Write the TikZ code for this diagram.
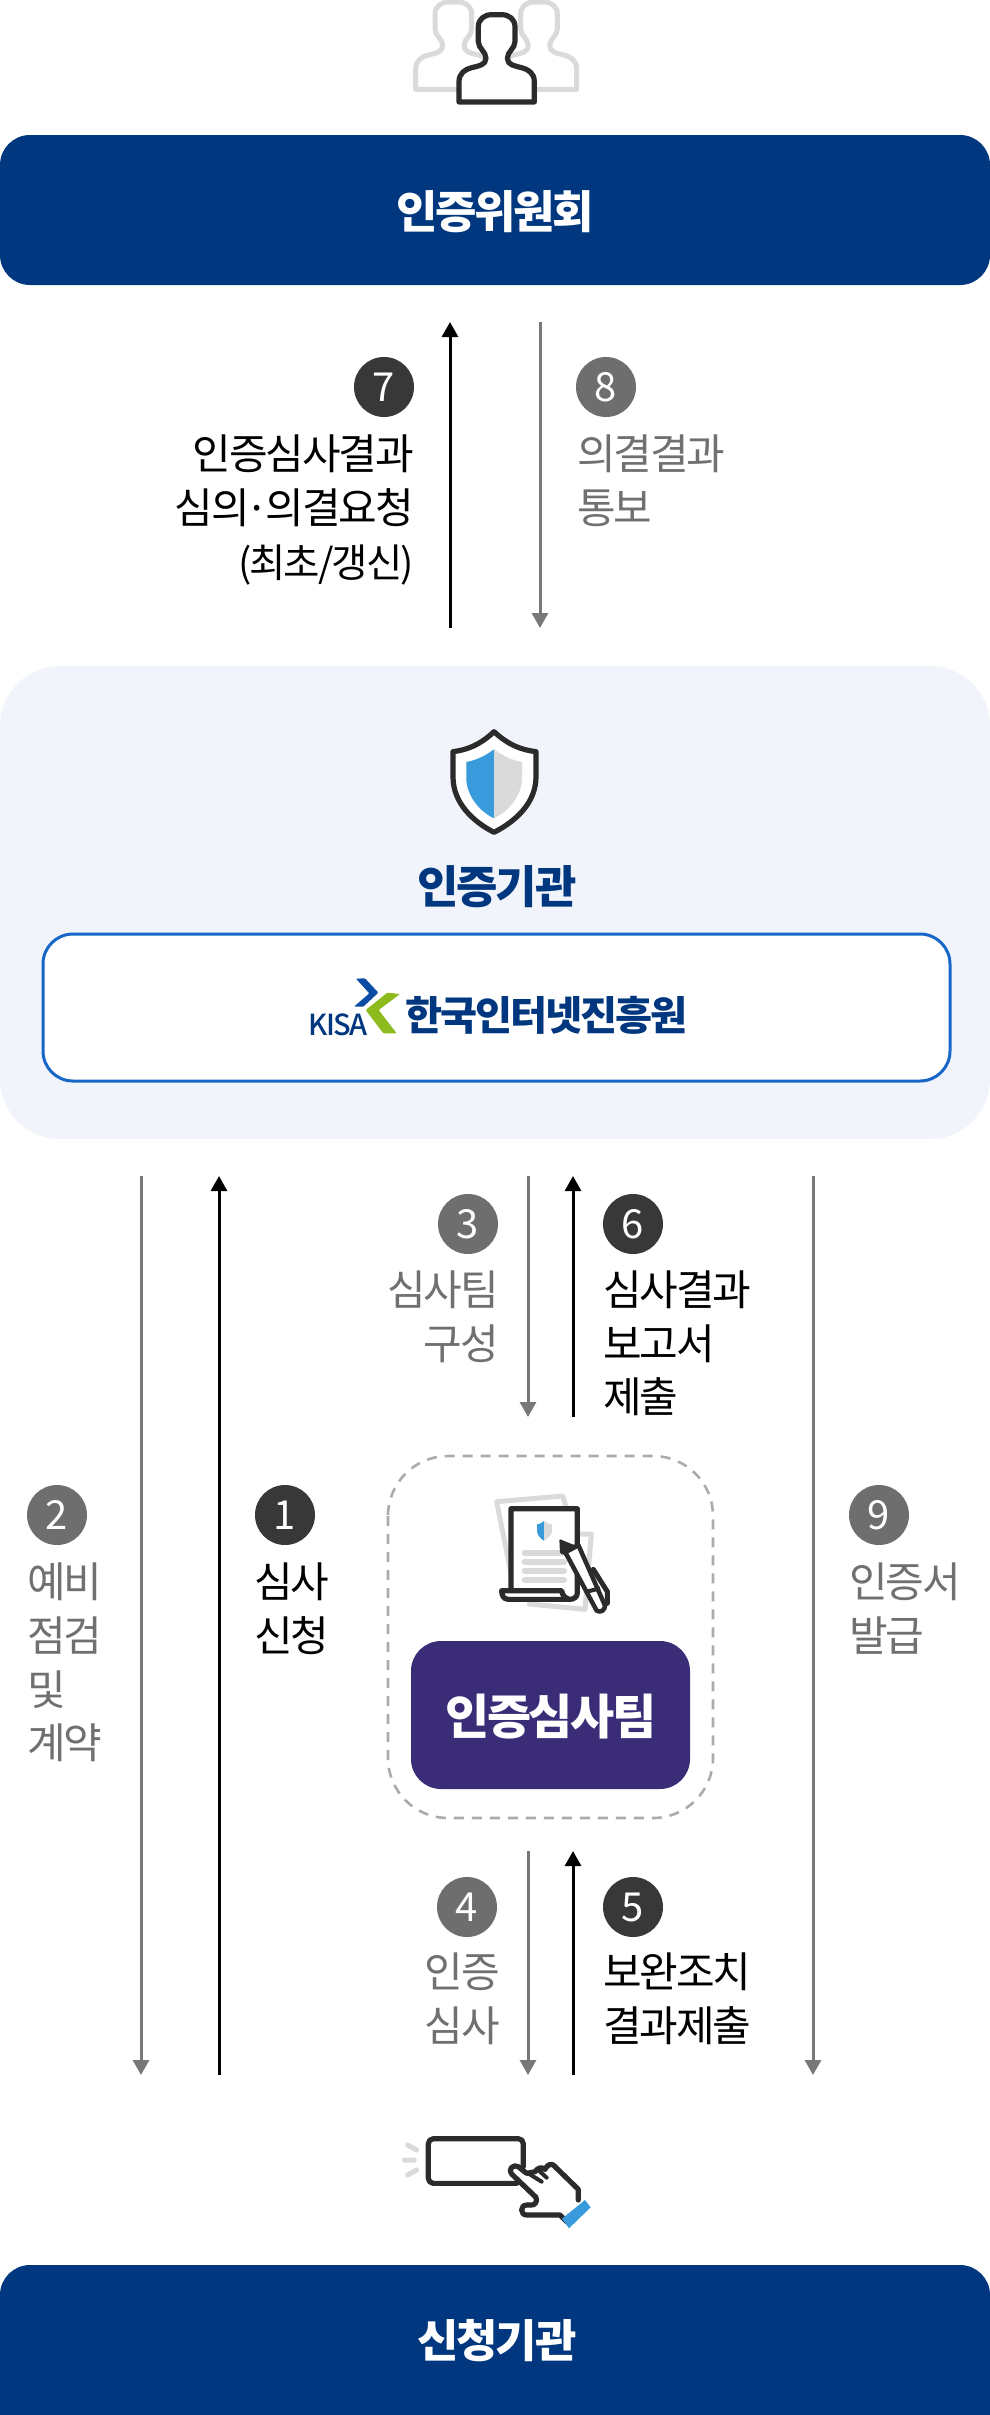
\documentclass[tikz,border=0pt]{standalone}
\usepackage{fontspec}
\setmainfont[LetterSpace=-5]{Noto Sans CJK KR}
\newfontfamily\medfont[LetterSpace=-5]{Noto Sans CJK KR Medium}
\usetikzlibrary{arrows.meta}
\definecolor{navy}{HTML}{00377F}
\definecolor{panel}{HTML}{F1F4FA}
\definecolor{lineblue}{HTML}{1767C8}
\definecolor{purp}{HTML}{3B2C77}
\definecolor{dark}{HTML}{2B2B2B}
\definecolor{circd}{HTML}{383838}
\definecolor{midgray}{HTML}{6E6E6E}
\definecolor{arrgray}{HTML}{787878}
\definecolor{txtgray}{HTML}{707070}
\definecolor{lgray}{HTML}{DADADA}
\definecolor{iblue}{HTML}{3A9BDC}
\definecolor{kgreen}{HTML}{8DBB1E}
\definecolor{kblue}{HTML}{0B4DA2}
\tikzset{
 x=1pt,y=-1pt,
 bar/.style={fill=navy,rounded corners=30pt,draw=none},
 title/.style={font=\fontsize{45}{50}\selectfont\bfseries,inner sep=0pt},
 darr/.style={line width=3pt,draw=black,-{Triangle[length=15pt,width=16pt]}},
 garr/.style={line width=3pt,draw=arrgray,-{Triangle[length=15pt,width=16pt]}},
 numd/.style={circle,fill=circd,text=white,minimum size=60pt,inner sep=0pt,font=\fontsize{40}{40}\selectfont},
 numg/.style={circle,fill=midgray,text=white,minimum size=60pt,inner sep=0pt,font=\fontsize{40}{40}\selectfont},
 lbl/.style={inner sep=0pt,font=\fontsize{42}{53.7}\selectfont},
 lblL/.style={lbl,anchor=west,align=left},
 lblR/.style={lbl,anchor=east,align=right},
 icond/.style={draw=dark,line width=5.2pt,line join=round,line cap=round},
 icong/.style={draw=lgray,line width=5pt,line join=round,line cap=round},
}
\newcommand{\personpath}{(327,306) -- (327,245) .. controls (327,220) and (345,208) .. (365,203) .. controls (385,198) and (408,195) .. (408,175) .. controls (408,155) and (385,145) .. (385,125) -- (385,80) .. controls (385,58) and (403,44) .. (425,44) -- (455,44) .. controls (477,44) and (495,58) .. (495,80) -- (495,125) .. controls (495,145) and (472,155) .. (472,175) .. controls (472,195) and (495,198) .. (515,203) .. controls (535,208) and (553,220) .. (553,245) -- (553,306) -- cycle}
\begin{document}
\begin{tikzpicture}
\useasboundingbox (0,0) rectangle (990,2415);
% bars
\path[bar] (0,135) rectangle (990,285);
\node[title,text=white] (committee) at (495,211.5) {인증위원회};
\path[bar] (0,2265) rectangle (990,2450);
\fill[white] (0,2415) rectangle (990,2455);
\node[title,text=white] (applicant) at (497,2340.5) {신청기관};
% panel
\path[fill=panel,rounded corners=60pt] (0,666) rectangle (990,1139);
\node[title,text=navy] (org) at (497,886.5) {인증기관};
\draw[draw=lineblue,line width=3pt,fill=white,rounded corners=30pt] (43,934) rectangle (950,1081);
% people icon
\begin{scope}[shift={(350,0)},xscale=1/3,yscale=1/3]
 \draw[icong,shift={(-130,-38)}] \personpath;
 \draw[icong,shift={(127,-38)}] \personpath;
 \draw[icond,fill=white] \personpath;
\end{scope}
% shield icon
\begin{scope}[shift={(380,700)},xscale=1/3,yscale=1/3]
 \draw[icond,fill=white] (342,95) .. controls (300,135) and (260,150) .. (219,155) -- (219,230) .. controls (219,310) and (280,365) .. (342,397) .. controls (405,365) and (468,310) .. (468,230) -- (468,155) .. controls (425,150) and (385,135) .. (342,95) -- cycle;
 \fill[iblue] (342,148) .. controls (315,168) and (290,180) .. (259,186) -- (259,240) .. controls (262,290) and (300,335) .. (342,355) -- cycle;
 \fill[lgray] (342,148) .. controls (369,168) and (394,180) .. (426,186) -- (426,240) .. controls (423,290) and (384,335) .. (342,355) -- cycle;
\end{scope}
% KISA logo
\begin{scope}[shift={(280,930)},xscale=1/3,yscale=1/3]
 \fill[kblue,rounded corners=1pt] (228,146) -- (255,145) -- (295,188) -- (250,230) -- (222,230) -- (268,190) -- cycle;
 \fill[kgreen,rounded corners=1pt] (360,192) -- (322,188) -- (257,240) -- (310,310) -- (350,310) -- (296,240) -- cycle;
\end{scope}
\node[inner sep=0pt,anchor=west,text=navy,font=\fontsize{29}{30}\selectfont\medfont] (kisa) at (308,1025) {KISA};
\node[inner sep=0pt,anchor=west,text=navy,font=\fontsize{40.3}{44}\selectfont\bfseries] (kisakr) at (405,1015) {한국인터넷진흥원};
% audit team
\draw[draw=black!33,line width=2.6pt,dash pattern=on 10pt off 8pt,rounded corners=60pt] (388,1456) rectangle (713,1818);
\path[fill=purp,rounded corners=30pt] (411,1641) rectangle (690,1789);
\node[title,text=white,font=\fontsize{48}{50}\selectfont\bfseries] (team) at (551,1716.5) {인증심사팀};
% document icon
\begin{scope}[shift={(370,1440)},xscale=1/3,yscale=1/3]
 \draw[icong] (423,400) -- (380,185) -- (578,168) -- (590,206);
 \draw[icong] (630,282) -- (664,282) -- (645,508) -- (478,492);
 \draw[icond,fill=white] (423,452) -- (423,206) -- (622,206) -- (622,460) .. controls (622,470) and (612,478) .. (600,478) -- (415,478) .. controls (400,478) and (395,465) .. (395,452) -- (575,452) .. controls (575,465) and (590,478) .. (600,478);
 \fill[iblue] (522,243) .. controls (515,250) and (508,252) .. (501,253) -- (501,275) .. controls (503,287) and (512,296) .. (522,302) -- cycle;
 \fill[lgray] (522,243) .. controls (530,250) and (538,252) .. (546,253) -- (546,275) .. controls (543,287) and (532,296) .. (522,302) -- cycle;
 \foreach \yy in {338,365,392,419}
  \draw[lgray,line width=6pt,line cap=round] (464,\yy) -- (582,\yy);
 \draw[fill=white,draw=dark,line width=4.5pt,line join=round] (585,335) -- (625,315) -- (702,490) .. controls (712,510) and (690,520) .. (680,512) -- cycle;
 \fill[dark,rounded corners=1pt] (568,297) -- (625,320) -- (622,325) -- (585,345) -- (570,340) -- cycle;
 \draw[dark,line width=4pt] (650,455) -- (690,445);
 \draw[dark,line width=5pt,line cap=round] (670,388) -- (712,455) -- (712,490);
\end{scope}
% hand icon
\begin{scope}[shift={(370,2110)},xscale=1/3,yscale=1/3]
 \draw[icong] (113,105) -- (140,120) (103,150) -- (133,150) (113,195) -- (140,180);
 \draw[icond,rounded corners=5pt] (460,170) -- (460,86) -- (175,86) -- (175,220) -- (440,220);
 \draw[icond,fill=white] (625,270) -- (625,238) -- (550,165) .. controls (540,160) and (532,165) .. (525,178) .. controls (515,170) and (505,172) .. (495,185) -- (470,190) -- (445,170) .. controls (430,160) and (412,180) .. (425,192) -- (498,262) .. controls (503,275) and (495,285) .. (485,285) -- (470,285) .. controls (450,285) and (450,315) .. (470,315) -- (570,315) -- (590,335);
 \draw[icond,line width=4pt] (478,192) -- (515,215) (505,180) -- (530,203);
 \fill[iblue] (576,326) -- (645,270) -- (662,292) -- (597,355) -- cycle;
\end{scope}
% connectors
\coordinate (a7s) at (450,628); \coordinate (a7e) at (450,322);
\coordinate (a8s) at (540,322); \coordinate (a8e) at (540,628);
\coordinate (a2s) at (141,1176); \coordinate (a2e) at (141,2075);
\coordinate (a1s) at (219,2075); \coordinate (a1e) at (219,1176);
\coordinate (a3s) at (528,1176); \coordinate (a3e) at (528,1417);
\coordinate (a6s) at (573,1417); \coordinate (a6e) at (573,1176);
\coordinate (a9s) at (813,1176); \coordinate (a9e) at (813,2075);
\coordinate (a4s) at (528,1851); \coordinate (a4e) at (528,2075);
\coordinate (a5s) at (573,2075); \coordinate (a5e) at (573,1851);
\draw[darr] (a7s) -- (a7e);
\draw[garr] (a8s) -- (a8e);
\draw[garr] (a2s) -- (a2e);
\draw[darr] (a1s) -- (a1e);
\draw[garr] (a3s) -- (a3e);
\draw[darr] (a6s) -- (a6e);
\draw[garr] (a9s) -- (a9e);
\draw[garr] (a4s) -- (a4e);
\draw[darr] (a5s) -- (a5e);
% numbers
\node[numd] (n7) at (384,387) {7};
\node[numg] (n8) at (606,387) {8};
\node[numg] (n3) at (468,1224) {3};
\node[numd] (n6) at (633,1224) {6};
\node[numg] (n2) at (57,1515) {2};
\node[numd] (n1) at (285,1515) {1};
\node[numg] (n9) at (879,1515) {9};
\node[numg] (n4) at (467,1907) {4};
\node[numd] (n5) at (633,1907) {5};
% labels
\node[lblR] (t7) at (414,510) {인증심사결과\\심의\hspace{-4pt}·\hspace{-4pt}의결요청\hspace{13pt}\\{\fontsize{39.5}{53.7}\selectfont(최초/갱신)}\hspace{-3pt}};
\node[lblL,text=txtgray] (t8) at (577,480.5) {의결결과\\통보};
\node[lblR,text=txtgray] (t3) at (499,1317) {심사팀\\구성};
\node[lblL] (t6) at (603,1343.5) {심사결과\\보고서\\제출};
\node[lblL,text=txtgray] (t2) at (27,1662.5) {예비\\점검\\및\\계약};
\node[lblL] (t1) at (254,1608.5) {심사\\신청};
\node[lblL,text=txtgray] (t9) at (849,1608.5) {인증서\\발급};
\node[lblR,text=txtgray] (t4) at (500,1999) {인증\\심사};
\node[lblL] (t5) at (603,1999) {보완조치\\결과제출};
\end{tikzpicture}
\end{document}
